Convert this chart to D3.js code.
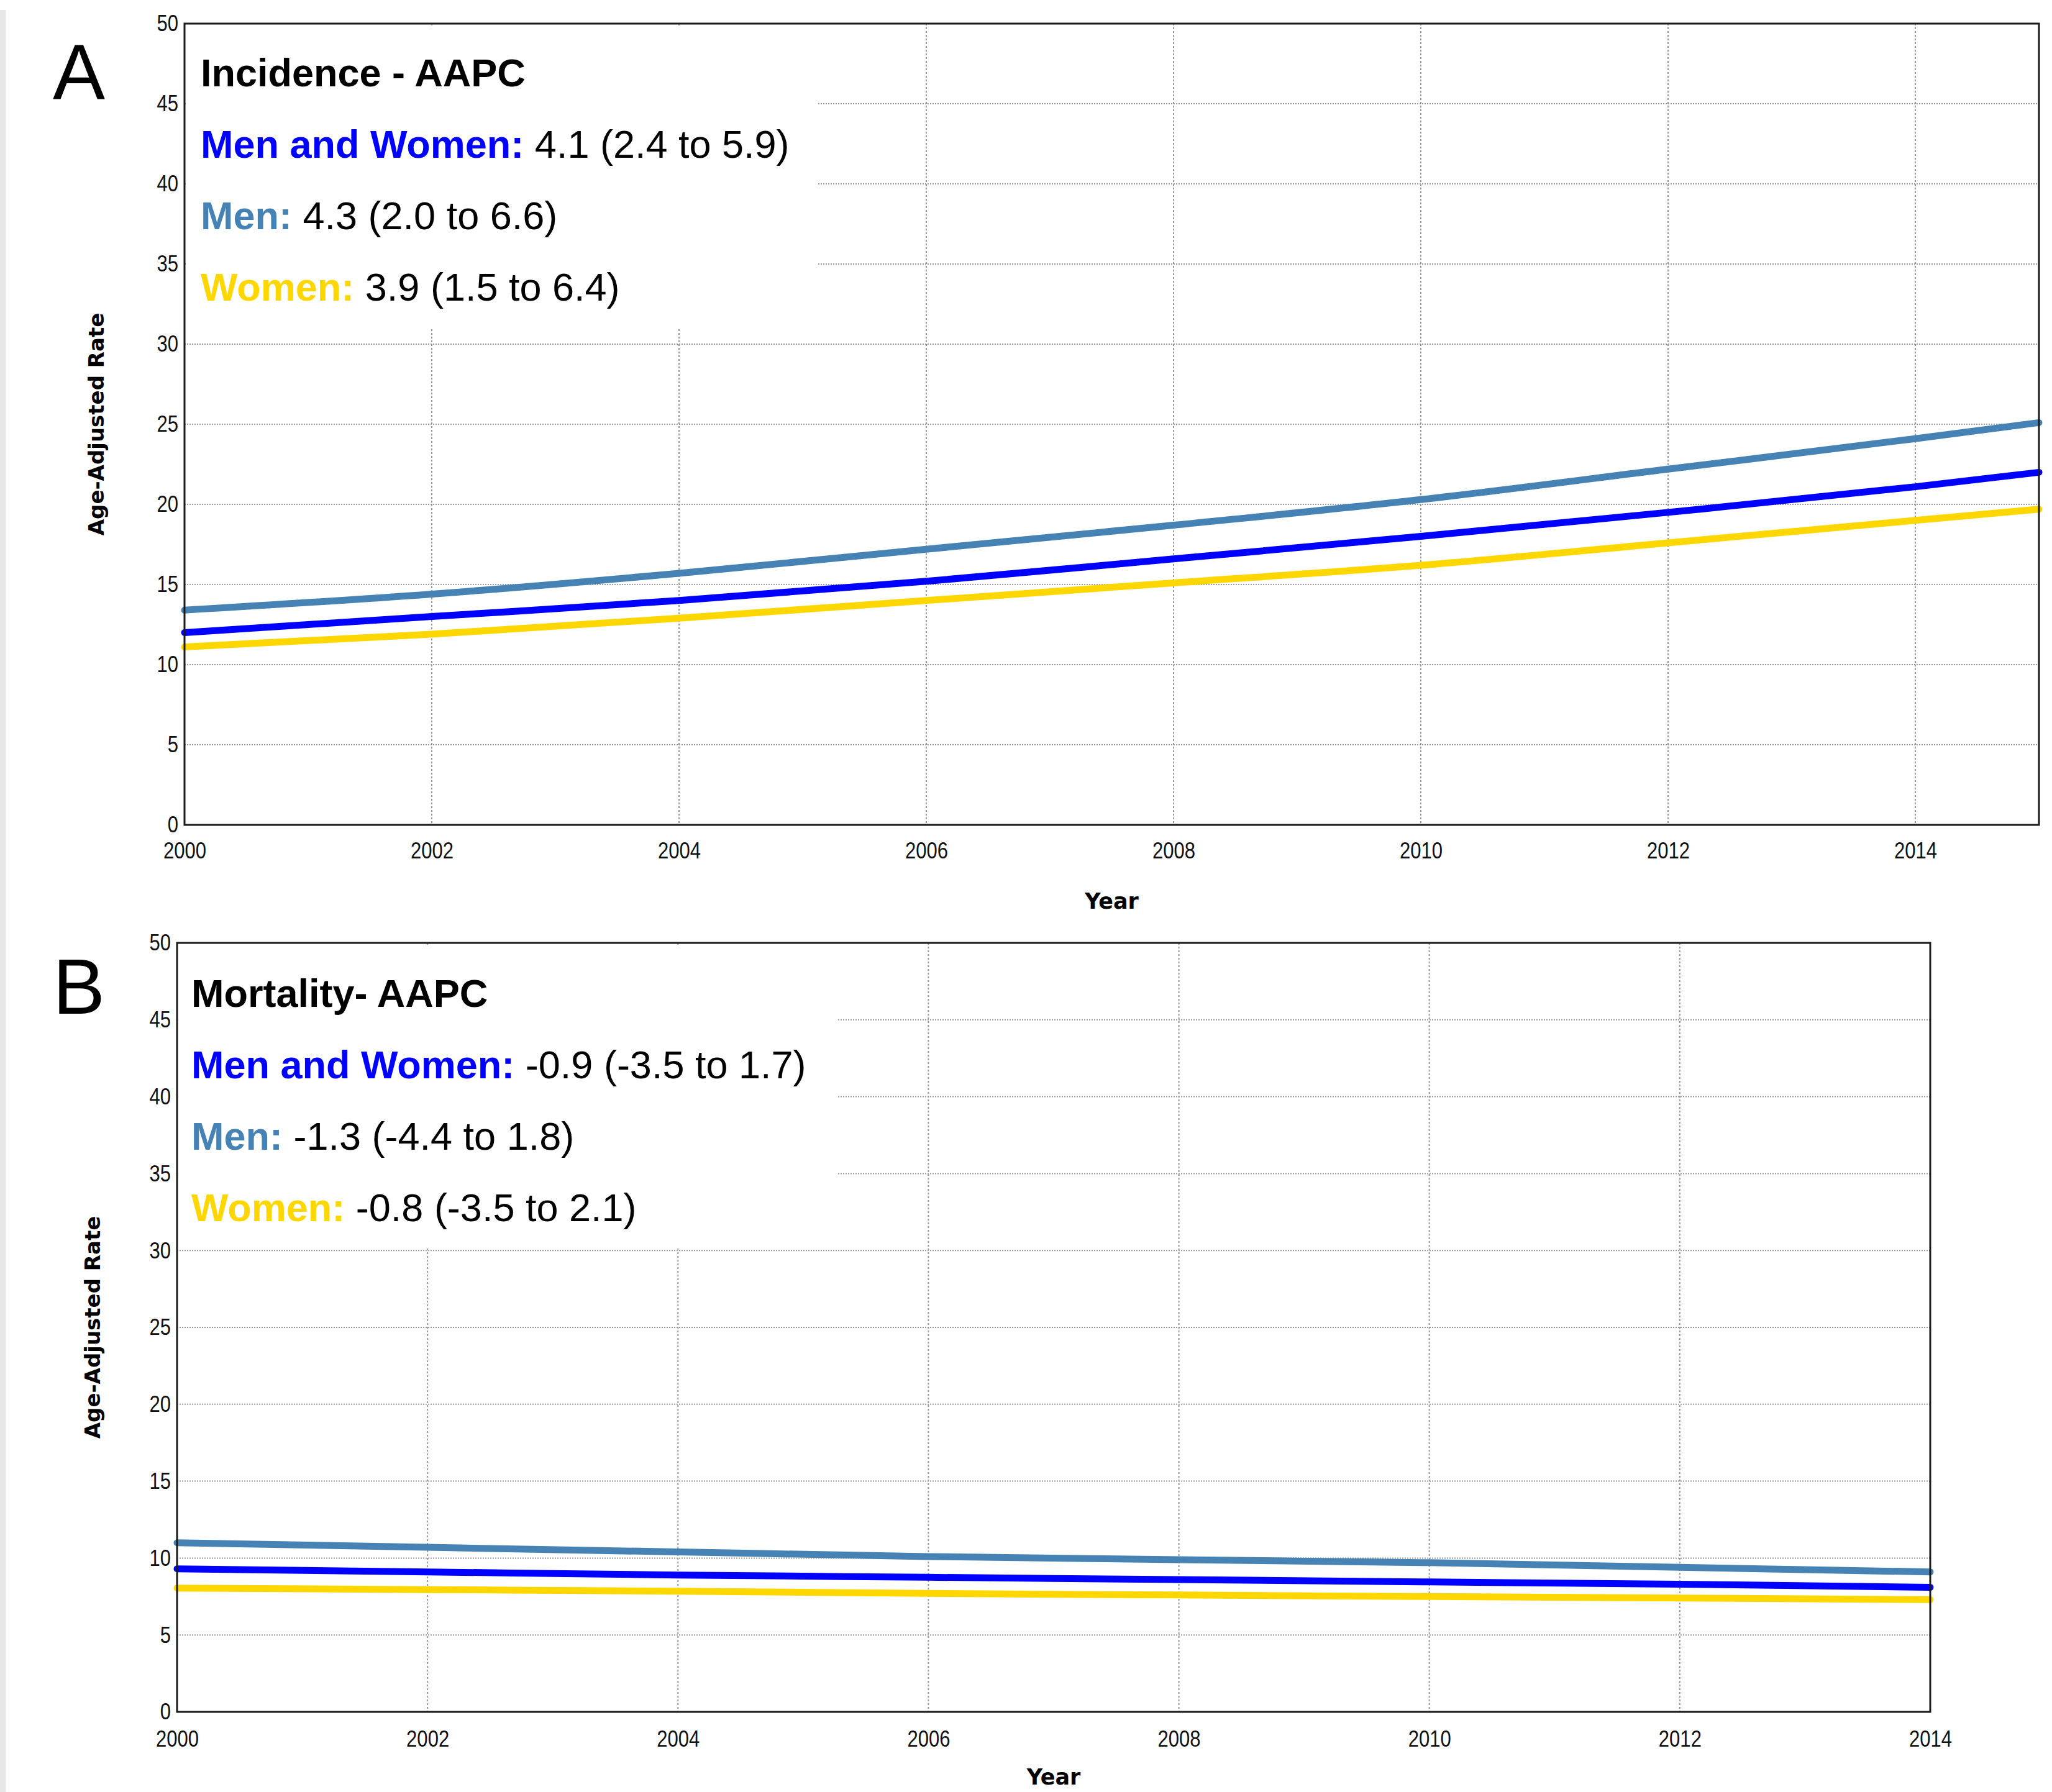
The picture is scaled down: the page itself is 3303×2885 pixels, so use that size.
<!DOCTYPE html>
<html>
<head>
<meta charset="utf-8">
<script src="https://cdn.jsdelivr.net/npm/d3@7"></script>
<style>
  body { margin: 0; background: #fff; }
  svg { display: block; }
  .tick-label { font-family: "Liberation Sans", Arial, sans-serif; fill: #111; }
  .axis-title { font-family: "DejaVu Sans", Verdana, sans-serif; font-weight: bold; fill: #000; }
  .note { font-family: "Liberation Sans", Arial, sans-serif; }
</style>
</head>
<body>
<div id="chart"></div>
<script>
// ---- data ----
const incYears = [2000, 2002, 2004, 2006, 2008, 2010, 2012, 2014, 2015];
const incMen = [13.4, 14.4, 15.7, 17.2, 18.7, 20.3, 22.2, 24.1, 25.1];
const incBoth = [12.0, 13.0, 14.0, 15.2, 16.6, 18.0, 19.5, 21.1, 22.0];
const incWomen = [11.1, 11.9, 12.9, 14.0, 15.1, 16.2, 17.6, 19.0, 19.7];

const morYears = [2000, 2002, 2004, 2006, 2008, 2010, 2012, 2014];
const morMen = [11.0, 10.7, 10.4, 10.1, 9.9, 9.7, 9.4, 9.1];
const morBoth = [9.3, 9.1, 8.9, 8.75, 8.6, 8.45, 8.3, 8.1];
const morWomen = [8.05, 7.95, 7.85, 7.7, 7.6, 7.5, 7.4, 7.3];

const yTicks = [0, 5, 10, 15, 20, 25, 30, 35, 40, 45, 50];
const xTicks = [2000, 2002, 2004, 2006, 2008, 2010, 2012, 2014];

const seriesNames = ["Men", "Men and Women", "Women"];
const seriesColors = { "Men": "#4682b4", "Men and Women": "#0000ff", "Women": "#ffd700" };

const incNotes = [
  ["Men and Women", "4.1 (2.4 to 5.9)"],
  ["Men", "4.3 (2.0 to 6.6)"],
  ["Women", "3.9 (1.5 to 6.4)"]
];
const morNotes = [
  ["Men and Women", "-0.9 (-3.5 to 1.7)"],
  ["Men", "-1.3 (-4.4 to 1.8)"],
  ["Women", "-0.8 (-3.5 to 2.1)"]
];

const W = 3303, H = 2885;
const narrow = 0.84; // tick labels in the picture are a condensed face

const svg = d3.select("#chart").append("svg")
  .attr("width", W)
  .attr("height", H);

// thin grey strip on the left edge
svg.append("rect")
  .attr("x", 0).attr("y", 16)
  .attr("width", 9).attr("height", H - 16)
  .attr("fill", "#e6e6e6");

function drawPanel(p) {
  const g = svg.append("g");

  const x = d3.scaleLinear().domain(p.xDomain).range([p.left, p.right]);
  const y = d3.scaleLinear().domain([0, 50]).range([p.bottom, p.top]);

  // grid
  g.selectAll(".hgrid")
    .data(yTicks.filter(d => d > 0 && d < 50))
    .enter().append("line")
    .attr("x1", p.left).attr("x2", p.right)
    .attr("y1", d => y(d)).attr("y2", d => y(d))
    .attr("stroke", "#999").attr("stroke-width", 2)
    .attr("stroke-dasharray", "2,2");

  g.selectAll(".vgrid")
    .data(xTicks.filter(d => d > p.xDomain[0] && d < p.xDomain[1]))
    .enter().append("line")
    .attr("x1", d => x(d)).attr("x2", d => x(d))
    .attr("y1", p.top).attr("y2", p.bottom)
    .attr("stroke", "#999").attr("stroke-width", 2)
    .attr("stroke-dasharray", "3,3");

  // white box behind the annotation text
  g.append("rect")
    .attr("x", p.left + 2).attr("y", p.top + 3)
    .attr("width", p.boxRight - p.left - 2)
    .attr("height", p.boxBottom - p.top - 3)
    .attr("fill", "#fff");

  // lines
  const line = d3.line()
    .x(d => x(d.year))
    .y(d => y(d.value))
    .curve(d3.curveMonotoneX);

  seriesNames.forEach(name => {
    const vals = p.series[name];
    const pts = p.years.map((yr, i) => ({ year: yr, value: vals[i] }));
    g.append("path")
      .datum(pts)
      .attr("d", line)
      .attr("fill", "none")
      .attr("stroke", seriesColors[name])
      .attr("stroke-width", 11)
      .attr("stroke-linecap", "round");
  });

  // frame
  g.append("rect")
    .attr("x", p.left).attr("y", p.top)
    .attr("width", p.right - p.left).attr("height", p.bottom - p.top)
    .attr("fill", "none")
    .attr("stroke", "#1a1a1a").attr("stroke-width", 3);

  // axes (labels only, the frame draws the lines)
  const yAxis = d3.axisLeft(y).tickValues(yTicks).tickSize(0).tickPadding(p.yPad);
  const yg = g.append("g").attr("transform", `translate(${p.left},0)`).call(yAxis);
  yg.select(".domain").remove();
  yg.selectAll("text")
    .attr("class", "tick-label").attr("font-size", 37).attr("font-family", null).attr("fill", null)
    .attr("x", -p.yPad / narrow)
    .attr("transform", `scale(${narrow},1)`);

  const xAxis = d3.axisBottom(x).tickValues(xTicks).tickSize(0).tickPadding(p.xPad)
    .tickFormat(d3.format("d"));
  const xg = g.append("g").attr("transform", `translate(0,${p.bottom})`).call(xAxis);
  xg.select(".domain").remove();
  xg.selectAll("text")
    .attr("class", "tick-label").attr("font-size", 37).attr("font-family", null).attr("fill", null)
    .attr("transform", `scale(${narrow},1)`);

  // axis titles
  g.append("text")
    .attr("class", "axis-title")
    .attr("x", (p.left + p.right) / 2)
    .attr("y", Math.min(p.bottom + 135, H - 12))
    .attr("text-anchor", "middle")
    .attr("font-size", 35)
    .text("Year");

  g.append("text")
    .attr("class", "axis-title")
    .attr("transform", `translate(${p.left - p.yTitleOff},${(p.top + p.bottom) / 2}) rotate(-90)`)
    .attr("text-anchor", "middle")
    .attr("font-size", 34)
    .text("Age-Adjusted Rate");

  // panel letter
  g.append("text")
    .attr("class", "note")
    .attr("x", p.letterX).attr("y", p.letterY)
    .attr("font-size", 126)
    .attr("fill", "#000")
    .text(p.letter);

  // annotation
  g.append("text")
    .attr("class", "note")
    .attr("x", p.noteX).attr("y", p.noteY)
    .attr("font-size", 63).attr("font-weight", "bold")
    .attr("fill", "#000")
    .text(p.title);

  p.notes.forEach((n, i) => {
    const t = g.append("text")
      .attr("class", "note")
      .attr("x", p.noteX)
      .attr("y", p.noteY + 115 * (i + 1))
      .attr("font-size", 63);
    t.append("tspan").attr("font-weight", "bold").attr("fill", seriesColors[n[0]]).text(n[0] + ": ");
    t.append("tspan").attr("fill", "#000").text(n[1]);
  });
}

drawPanel({
  letter: "A", letterX: 85, letterY: 159,
  title: "Incidence - AAPC",
  notes: incNotes, noteX: 323, noteY: 139,
  left: 297, right: 3282, top: 38, bottom: 1328,
  boxRight: 1317, boxBottom: 527,
  xDomain: [2000, 2015],
  yPad: 10, xPad: 28, yTitleOff: 130,
  years: incYears,
  series: { "Men": incMen, "Men and Women": incBoth, "Women": incWomen }
});

drawPanel({
  letter: "B", letterX: 85, letterY: 1632,
  title: "Mortality- AAPC",
  notes: morNotes, noteX: 308, noteY: 1621,
  left: 285, right: 3107, top: 1518, bottom: 2756,
  boxRight: 1347, boxBottom: 2008,
  xDomain: [2000, 2014],
  yPad: 10, xPad: 30, yTitleOff: 124,
  years: morYears,
  series: { "Men": morMen, "Men and Women": morBoth, "Women": morWomen }
});
</script>
</body>
</html>
